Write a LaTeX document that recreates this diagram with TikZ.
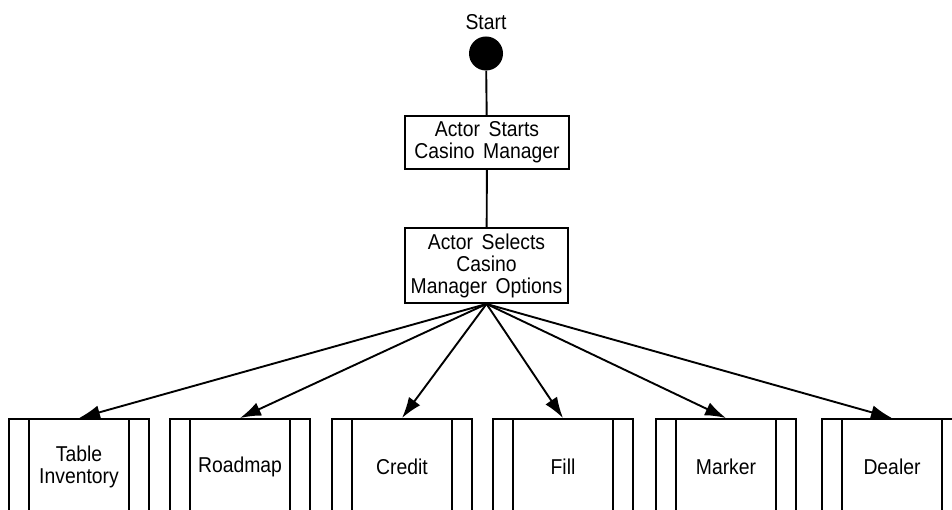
\documentclass[tikz,border=0pt]{standalone}
\usepackage{fontspec}
\setmainfont[FakeStretch=0.9,WordSpace=1.6]{Liberation Sans}
\usetikzlibrary{arrows.meta}
\tikzset{
  txt/.style={font=\fontsize{21.5}{22}\selectfont, align=center},
  act/.style={txt, draw, line width=1.9pt, inner sep=0pt},
  subproc/.style={txt, draw, line width=1.9pt, inner sep=0pt, minimum width=140pt, minimum height=95pt,
    path picture={
      \draw[line width=1.9pt] ([xshift=20pt]path picture bounding box.north west) -- ([xshift=20pt]path picture bounding box.south west);
      \draw[line width=1.9pt] ([xshift=-20pt]path picture bounding box.north east) -- ([xshift=-20pt]path picture bounding box.south east);
    }},
  conn/.style={line width=1.9pt},
  arr/.style={line width=1.9pt, -{Latex[length=21pt,width=14pt]}},
}
\begin{document}
\begin{tikzpicture}[x=1pt,y=-1pt]
\useasboundingbox (0,0) rectangle (952,510);
\clip (0,0) rectangle (952,510);
\node[txt, anchor=base] (lbl) at (486,30) {Start};
\node[circle, fill=black, inner sep=0pt, minimum size=34pt] (start) at (486,53.5) {};
\node[act, minimum width=164pt, minimum height=53pt] (b1) at (487,142.5) {Actor Starts\\Casino Manager};
\node[act, minimum width=163pt, minimum height=75pt] (b2) at (486.5,265.5) {Actor Selects\\Casino\\Manager Options};
\draw[conn] (start) -- (b1);
\draw[conn] (b1) -- (b2);
\node[subproc] (t1) at (79,466.5) {Table\\Inventory};
\node[subproc] (t2) at (240,466.5) {Roadmap};
\node[subproc] (t3) at (402,466.5) {Credit};
\node[subproc] (t4) at (563,466.5) {Fill};
\node[subproc] (t5) at (726,466.5) {Marker};
\node[subproc] (t6) at (892,466.5) {Dealer};
\foreach \t in {t1,t2,t3,t4,t5,t6}
  \draw[arr] (b2.south) -- (\t.north);
\end{tikzpicture}
\end{document}
